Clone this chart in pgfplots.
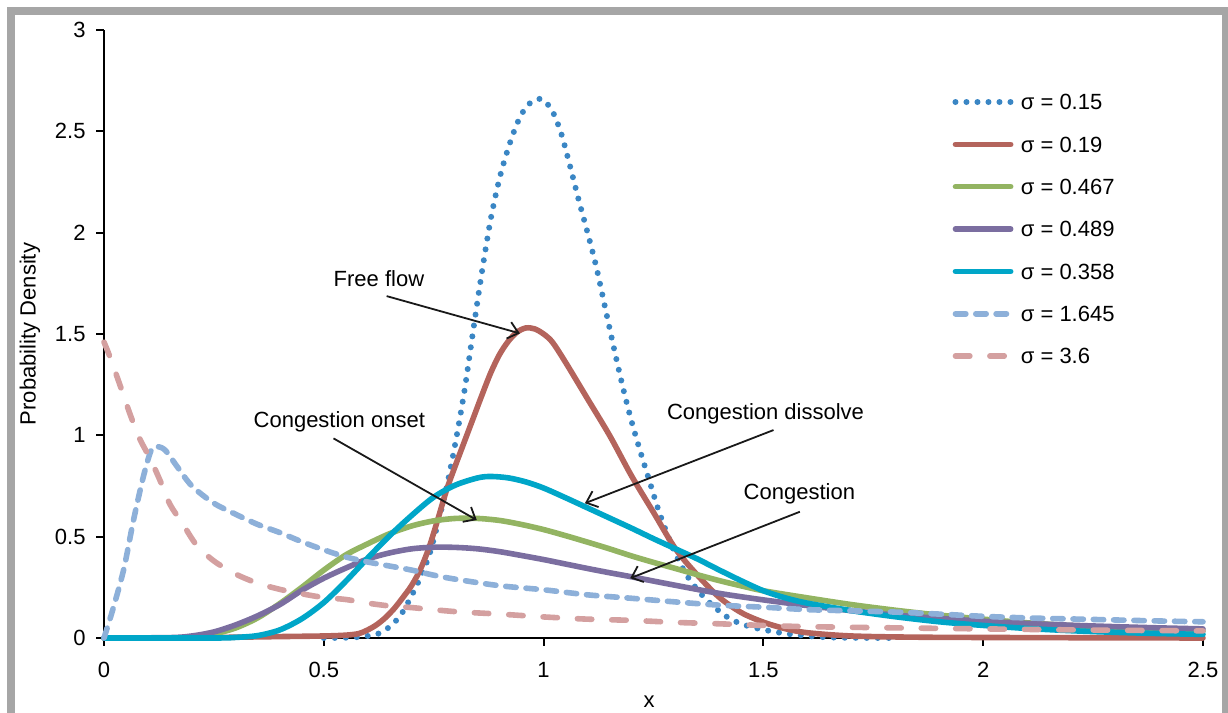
\documentclass[border=0pt]{standalone}
\usepackage{fontspec}
\setmainfont{Liberation Sans}
\usepackage{pgfplots}
\pgfplotsset{compat=1.18}
\usetikzlibrary{arrows.meta}
\definecolor{cdot}{RGB}{58,134,196}
\definecolor{cred}{RGB}{180,100,92}
\definecolor{cgreen}{RGB}{147,180,98}
\definecolor{cpurple}{RGB}{123,110,160}
\definecolor{ccyan}{RGB}{0,166,200}
\definecolor{cldash}{RGB}{141,176,217}
\definecolor{cpink}{RGB}{212,160,160}
\definecolor{framegray}{RGB}{166,166,166}
\begin{document}
\begin{tikzpicture}[font=\fontsize{11}{13.2}\selectfont]
\useasboundingbox (-52pt,-37.5pt) rectangle (562pt,319pt);
\draw[line width=4pt, color=framegray, line join=miter] (-46.5pt,-60pt) -- (-46.5pt,313.5pt) -- (561pt,313.5pt) -- (561pt,-60pt);
\begin{axis}[
  at={(0pt,0pt)}, anchor=south west,
  scale only axis, width=549.5pt, height=304pt,
  xmin=0, xmax=2.5, ymin=0, ymax=3,
  axis x line*=bottom, axis y line*=left,
  axis line style={line width=1pt, black},
  xtick={0,0.5,1,1.5,2,2.5}, ytick={0,0.5,1,1.5,2,2.5,3},
  tick align=outside, major tick length=3.75pt,
  tick style={line width=1pt, black},
  /pgf/number format/assume math mode=true,
  xticklabel style={inner sep=0pt, anchor=north, yshift=-8.3pt},
  yticklabel style={inner sep=0pt, anchor=east, xshift=-5.3pt},
  xlabel={x}, ylabel={Probability Density},
  every axis x label/.style={at={(axis description cs:0.496,-0.1044)}, anchor=center},
  every axis y label/.style={at={(axis description cs:-0.0673,0.5)}, rotate=90, anchor=center},
  clip=false,
  legend cell align=left,
  legend style={at={(0.7695,0.8967)}, anchor=north west, draw=none, fill=none,
    inner sep=0pt, outer sep=0pt, row sep=11.97pt,
    nodes={inner sep=0pt, text height=8.5pt, text depth=0.7pt}},
  legend image code/.code={\draw[#1] (1.4pt,0pt) -- (29pt,0pt); \path (0pt,0pt) (32.6pt,0pt);},
  every axis plot/.append style={line cap=round, line join=round, smooth, tension=0.5},
]
% sigma = 0.15
\addplot[cdot, line width=3pt, dash pattern=on 0pt off 5.5pt] table {
0.50 0
0.56 0.002
0.60 0.01
0.62 0.018
0.64 0.04
0.66 0.075
0.68 0.13
0.70 0.21
0.72 0.30
0.74 0.41
0.76 0.57
0.78 0.75
0.80 0.97
0.82 1.22
0.84 1.52
0.86 1.81
0.88 2.07
0.90 2.27
0.92 2.42
0.94 2.54
0.96 2.62
0.98 2.655
0.99 2.66
1.00 2.655
1.02 2.60
1.04 2.49
1.06 2.33
1.08 2.16
1.10 2.00
1.12 1.83
1.14 1.63
1.16 1.43
1.18 1.24
1.20 1.07
1.22 0.92
1.24 0.78
1.26 0.64
1.28 0.52
1.30 0.415
1.33 0.295
1.37 0.19
1.42 0.10
1.47 0.056
1.55 0.022
1.65 0.003
1.80 0
};
\addlegendentry{σ = 0.15}
% sigma = 0.19
\addplot[cred, line width=2.8pt] table {
0 0
0.20 0.001
0.30 0.004
0.40 0.007
0.50 0.01
0.55 0.014
0.58 0.022
0.60 0.04
0.62 0.065
0.64 0.10
0.66 0.145
0.68 0.20
0.70 0.26
0.72 0.34
0.74 0.45
0.76 0.59
0.78 0.735
0.80 0.855
0.82 0.97
0.84 1.085
0.86 1.20
0.88 1.31
0.90 1.40
0.92 1.465
0.94 1.51
0.96 1.53
0.98 1.525
1.00 1.50
1.02 1.46
1.05 1.36
1.10 1.18
1.15 1.00
1.20 0.80
1.25 0.62
1.30 0.44
1.35 0.31
1.40 0.20
1.45 0.125
1.50 0.078
1.55 0.046
1.60 0.026
1.70 0.01
1.85 0.004
2.10 0.002
2.50 0
};
\addlegendentry{σ = 0.19}
% sigma = 0.467
\addplot[cgreen, line width=2.8pt] table {
0 0
0.15 0
0.20 0.005
0.25 0.02
0.30 0.05
0.35 0.10
0.40 0.17
0.45 0.25
0.50 0.335
0.55 0.41
0.60 0.465
0.65 0.515
0.70 0.553
0.75 0.578
0.80 0.59
0.85 0.59
0.90 0.58
0.95 0.56
1.00 0.535
1.05 0.505
1.10 0.473
1.15 0.44
1.20 0.405
1.25 0.373
1.30 0.343
1.35 0.312
1.40 0.283
1.45 0.257
1.50 0.233
1.60 0.198
1.70 0.165
1.80 0.137
1.90 0.113
2.00 0.093
2.10 0.075
2.20 0.061
2.30 0.05
2.40 0.041
2.50 0.034
};
\addlegendentry{σ = 0.467}
% sigma = 0.489
\addplot[cpurple, line width=2.8pt] table {
0 0
0.15 0.002
0.20 0.01
0.25 0.03
0.30 0.065
0.35 0.11
0.40 0.165
0.45 0.235
0.50 0.295
0.55 0.345
0.60 0.39
0.65 0.42
0.70 0.44
0.75 0.448
0.80 0.447
0.85 0.44
0.90 0.426
0.95 0.407
1.00 0.387
1.05 0.365
1.10 0.343
1.15 0.322
1.20 0.302
1.30 0.26
1.40 0.22
1.50 0.188
1.60 0.16
1.70 0.135
1.80 0.113
1.90 0.097
2.00 0.083
2.10 0.072
2.20 0.063
2.30 0.056
2.40 0.05
2.50 0.045
};
\addlegendentry{σ = 0.489}
% sigma = 0.358
\addplot[ccyan, line width=2.8pt] table {
0 0
0.25 0
0.30 0.003
0.35 0.012
0.40 0.04
0.45 0.095
0.50 0.175
0.55 0.28
0.60 0.395
0.65 0.505
0.70 0.605
0.75 0.695
0.80 0.755
0.85 0.79
0.88 0.797
0.92 0.79
0.96 0.77
1.00 0.74
1.05 0.692
1.10 0.642
1.15 0.592
1.20 0.542
1.25 0.49
1.30 0.44
1.35 0.39
1.40 0.335
1.45 0.282
1.50 0.233
1.55 0.198
1.60 0.172
1.70 0.135
1.80 0.105
1.90 0.08
2.00 0.062
2.10 0.047
2.20 0.036
2.30 0.028
2.40 0.022
2.50 0.018
};
\addlegendentry{σ = 0.358}
% sigma = 1.645
\addplot[cldash, line width=2.8pt, dash pattern=on 5.2pt off 4.95pt] table {
0 0
0.02 0.14
0.045 0.34
0.067 0.58
0.09 0.80
0.108 0.93
0.122 0.945
0.14 0.925
0.165 0.85
0.20 0.75
0.25 0.665
0.30 0.61
0.35 0.56
0.40 0.52
0.45 0.475
0.50 0.435
0.55 0.40
0.60 0.375
0.65 0.355
0.70 0.335
0.75 0.31
0.80 0.29
0.90 0.258
1.00 0.238
1.10 0.213
1.20 0.196
1.30 0.178
1.40 0.162
1.50 0.152
1.60 0.14
1.70 0.134
1.80 0.128
1.90 0.118
2.00 0.107
2.10 0.099
2.20 0.094
2.30 0.089
2.40 0.084
2.50 0.08
};
\addlegendentry{σ = 1.645}
% sigma = 3.6
\addplot[cpink, line width=2.8pt, dash pattern=on 7.2pt off 10pt] table {
0 1.46
0.013 1.39
0.036 1.25
0.06 1.10
0.082 0.98
0.105 0.885
0.127 0.78
0.15 0.66
0.18 0.56
0.21 0.46
0.25 0.38
0.30 0.315
0.35 0.27
0.40 0.24
0.45 0.218
0.50 0.20
0.55 0.19
0.60 0.172
0.65 0.158
0.70 0.15
0.80 0.13
0.90 0.118
1.00 0.104
1.10 0.093
1.20 0.087
1.30 0.077
1.40 0.07
1.50 0.062
1.60 0.056
1.80 0.05
2.00 0.045
2.20 0.04
2.50 0.035
};
\addlegendentry{σ = 3.6}
% annotations
\node[anchor=base west, inner sep=0pt] at (axis cs:0.5216,1.7366) {Free flow};
\node[anchor=base west, inner sep=0pt] at (axis cs:0.3396,1.041) {Congestion onset};
\node[anchor=base west, inner sep=0pt] at (axis cs:1.280,1.080) {Congestion dissolve};
\node[anchor=base west, inner sep=0pt] at (axis cs:1.4543,0.681) {Congestion};
\draw[-{Straight Barb[length=5pt,width=8.5pt]}, line width=0.9pt, black!90] (axis cs:0.643,1.687) -- (axis cs:0.946,1.503);
\draw[-{Straight Barb[length=5pt,width=8.5pt]}, line width=0.9pt, black!90] (axis cs:0.522,0.985) -- (axis cs:0.848,0.582);
\draw[-{Straight Barb[length=5pt,width=8.5pt]}, line width=0.9pt, black!90] (axis cs:1.523,1.026) -- (axis cs:1.094,0.665);
\draw[-{Straight Barb[length=5pt,width=8.5pt]}, line width=0.9pt, black!90] (axis cs:1.583,0.623) -- (axis cs:1.197,0.295);
\end{axis}
\end{tikzpicture}
\end{document}
